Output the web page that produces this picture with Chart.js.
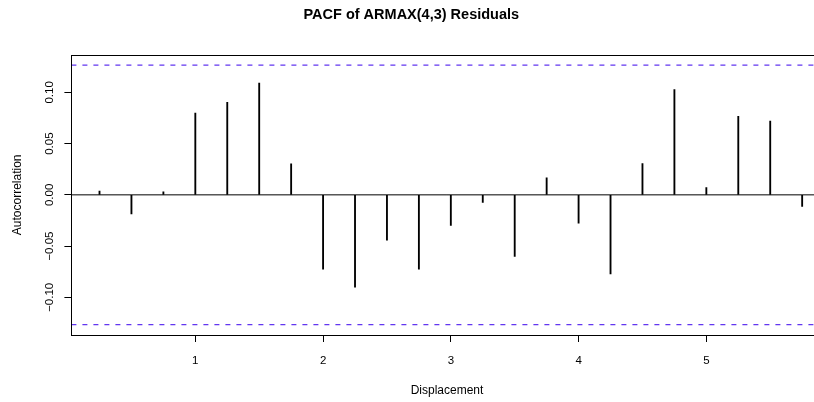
<!DOCTYPE html>
<html>
<head>
<meta charset="utf-8">
<script src="https://cdn.jsdelivr.net/npm/chart.js@4.4.1/dist/chart.umd.min.js"></script>
<style>
  html, body { margin: 0; padding: 0; background: #fff; overflow: hidden; }
  #wrap { width: 814px; height: 402px; overflow: hidden; }
</style>
</head>
<body>
<div id="wrap"><canvas id="pacfChart" width="894" height="402"></canvas></div>
<script>
// lags (x) and partial autocorrelations
const lags = [0.25, 0.5, 0.75, 1, 1.25, 1.5, 1.75, 2, 2.25, 2.5, 2.75, 3,
  3.25, 3.5, 3.75, 4, 4.25, 4.5, 4.75, 5, 5.25, 5.5, 5.75];
const pacfValues = [0.0036, -0.0185, 0.0029, 0.0799, 0.0903, 0.1092, 0.0302,
  -0.0725, -0.0900, -0.0442, -0.0725, -0.0299, -0.0075, -0.0601, 0.0166,
  -0.0276, -0.0773, 0.0305, 0.1027, 0.0071, 0.0767, 0.0721, -0.0114];
const confLimit = 0.1267;
const xTicks = [1, 2, 3, 4, 5];
const yTicks = [-0.10, -0.05, 0, 0.05, 0.10];
const yTickLabels = ['\u22120.10', '\u22120.05', '0.00', '0.05', '0.10'];

const xMin = 0.03, xMax = 5.91;
const yMin = -0.1368, yMax = 0.1368;
const FONT = "'Liberation Sans', Arial, Helvetica, sans-serif";

// box around the plot + rotated y tick labels (R style)
const framePlugin = {
  id: 'frame',
  afterDraw(chart) {
    const { ctx, chartArea: a } = chart;
    ctx.save();
    ctx.strokeStyle = '#000';
    ctx.lineWidth = 1;
    ctx.strokeRect(Math.round(a.left) + 0.5, Math.round(a.top) + 0.5,
      Math.round(a.right - a.left), Math.round(a.bottom - a.top));
    ctx.fillStyle = '#000';
    ctx.font = '11.5px ' + FONT;
    ctx.textAlign = 'center';
    ctx.textBaseline = 'middle';
    yTicks.forEach((v, i) => {
      const py = chart.scales.y.getPixelForValue(v);
      ctx.save();
      ctx.translate(50, py);
      ctx.rotate(-Math.PI / 2);
      ctx.fillText(yTickLabels[i], 0, 0);
      ctx.restore();
    });
    ctx.restore();
  }
};

const ctx = document.getElementById('pacfChart').getContext('2d');
const chart = new Chart(ctx, {
  type: 'bar',
  data: {
    datasets: [
      {
        type: 'line',
        data: [{ x: xMin, y: confLimit }, { x: xMax, y: confLimit }],
        borderColor: '#6236f0',
        borderWidth: 1.3,
        borderDash: [5, 6],
        pointRadius: 0
      },
      {
        type: 'line',
        data: [{ x: xMin, y: -confLimit }, { x: xMax, y: -confLimit }],
        borderColor: '#6236f0',
        borderWidth: 1.3,
        borderDash: [5, 6],
        pointRadius: 0
      },
      {
        type: 'line',
        data: [{ x: xMin, y: 0 }, { x: xMax, y: 0 }],
        borderColor: '#000',
        borderWidth: 1,
        pointRadius: 0
      },
      {
        type: 'bar',
        data: lags.map((x, i) => ({ x: x, y: pacfValues[i] })),
        backgroundColor: '#000',
        barThickness: 1.2
      }
    ]
  },
  options: {
    responsive: false,
    animation: false,
    devicePixelRatio: 1,
    layout: { padding: { left: 0, right: 71.4, top: 0, bottom: 0 } },
    plugins: {
      legend: { display: false },
      tooltip: { enabled: false },
      title: {
        display: true,
        text: 'PACF of ARMAX(4,3) Residuals',
        color: '#000',
        font: { family: FONT, size: 14.5, weight: 'bold', lineHeight: 1.2 },
        padding: { top: 6.3, bottom: 31.0 }
      }
    },
    scales: {
      x: {
        type: 'linear',
        min: xMin,
        max: xMax,
        offset: false,
        afterBuildTicks: (s) => { s.ticks = xTicks.map(v => ({ value: v })); },
        afterFit: (s) => { s.height = 67; },
        grid: { display: true, offset: false, drawOnChartArea: false, drawTicks: true, tickLength: 7, color: '#000' },
        border: { display: false },
        ticks: { color: '#000', font: { family: FONT, size: 11.5 }, padding: 12, maxRotation: 0 },
        title: {
          display: true,
          text: 'Displacement',
          color: '#000',
          font: { family: FONT, size: 12, lineHeight: 1.2 },
          padding: { top: 0, bottom: 3.8 }
        }
      },
      y: {
        type: 'linear',
        min: yMin,
        max: yMax,
        afterBuildTicks: (s) => { s.ticks = yTicks.map(v => ({ value: v })); },
        afterFit: (s) => { s.width = 71.4; },
        grid: { display: true, drawOnChartArea: false, drawTicks: true, tickLength: 7, color: '#000' },
        border: { display: false },
        ticks: { display: false },
        title: {
          display: true,
          text: 'Autocorrelation',
          color: '#000',
          font: { family: FONT, size: 12, lineHeight: 1.2 },
          padding: { top: 10.8, bottom: 0 }
        }
      }
    }
  },
  plugins: [framePlugin]
});
</script>
</body>
</html>
